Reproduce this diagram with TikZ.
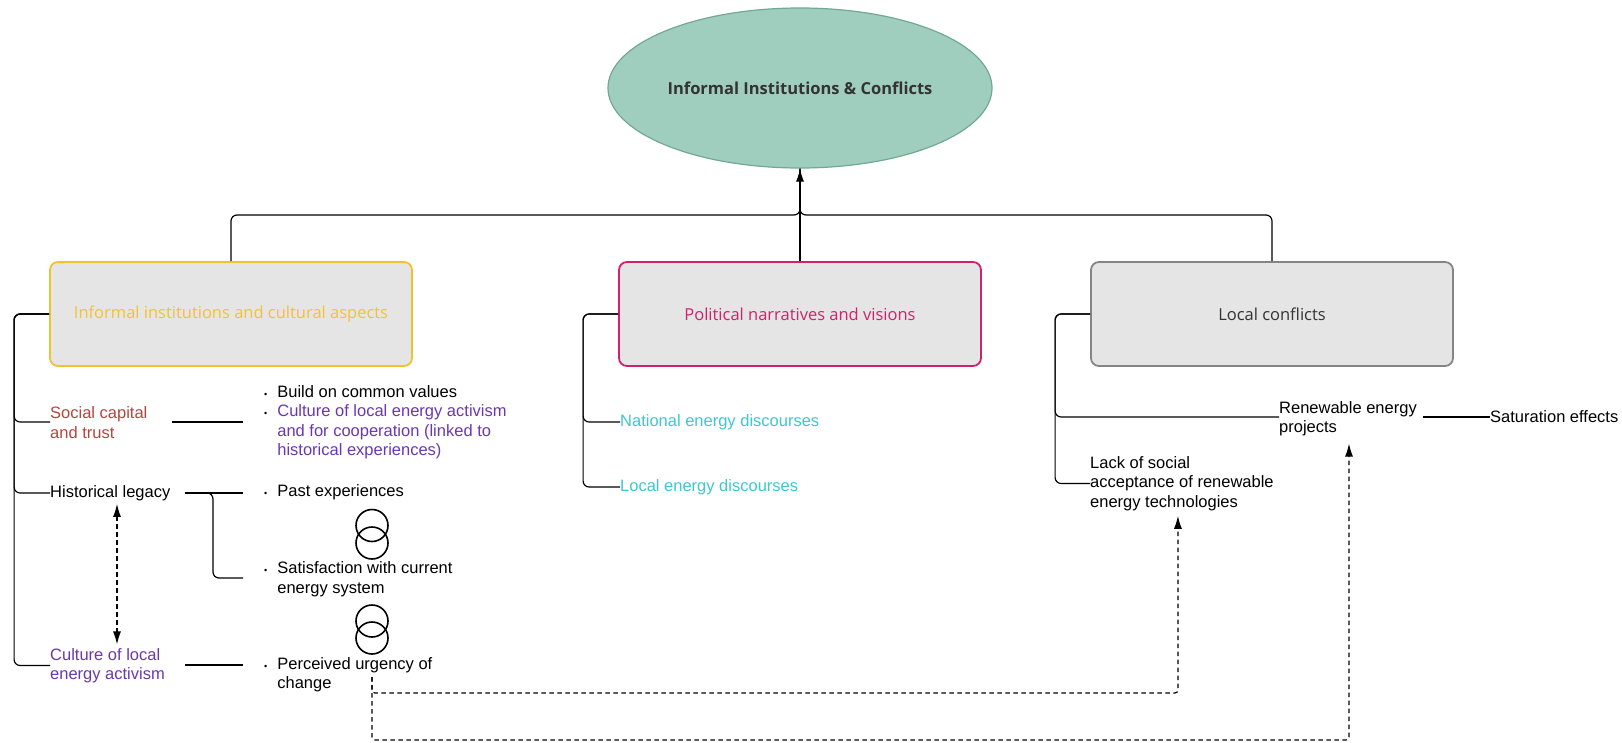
\documentclass[tikz,border=0pt]{standalone}
\usepackage{fontspec}
\setmainfont{Liberation Sans}
\newfontfamily\opensans{Open Sans}
\usetikzlibrary{shapes.geometric,arrows.meta}
\definecolor{ellfill}{HTML}{9FCDBE}
\definecolor{ellborder}{HTML}{72A993}
\definecolor{boxfill}{HTML}{E5E5E5}
\definecolor{yelborder}{HTML}{F2C12E}
\definecolor{yeltext}{HTML}{F3C233}
\definecolor{magborder}{HTML}{D51F6D}
\definecolor{magtext}{HTML}{D0216B}
\definecolor{grayborder}{HTML}{858585}
\definecolor{darktext}{HTML}{333333}
\definecolor{socred}{HTML}{B5443F}
\definecolor{actpurple}{HTML}{6A37B0}
\definecolor{disccyan}{HTML}{3DC7D1}
\begin{document}
\begin{tikzpicture}[x=1pt,y=-1pt,
  catbox/.style={draw, line width=1.8pt, rounded corners=8pt, fill=boxfill,
    minimum width=362pt, minimum height=104pt,
    font=\opensans\fontsize{16.5}{20}\selectfont},
  lbl/.style={anchor=west, inner sep=0pt, align=left,
    font=\fontsize{16.5}{19.4}\selectfont},
  conn/.style={line width=1.2pt, rounded corners=6pt},
  dashconn/.style={line width=1.2pt, dash pattern=on 4.5pt off 3.5pt, rounded corners=3pt},
  tip/.style={-{Latex[length=13pt,width=8pt]}},
  ring/.style={line width=1.6pt}
]
\useasboundingbox (0,0) rectangle (1622,742);

% top concept
\node[ellipse, draw=ellborder, fill=ellfill, line width=1.2pt,
  minimum width=380pt, minimum height=160pt,
  font=\opensans\bfseries\fontsize{16.5}{20}\selectfont, text=darktext]
  (root) at (800,88) {Informal Institutions \& Conflicts};

% three categories
\node[catbox, draw=yelborder, text=yeltext] (inf) at (231,314) {Informal institutions and cultural aspects};
\node[catbox, draw=magborder, text=magtext] (pol) at (800,314) {Political narratives and visions};
\node[catbox, draw=grayborder, text=darktext] (loc) at (1272,314) {Local conflicts};

% links to the top concept
\coordinate (hub) at (800,215);
\draw[conn] (inf.north) |- (hub) -- (root.south);
\draw[conn] (loc.north) |- (hub) -- (root.south);
\draw[conn, tip] (pol.north) -- (root.south);

% left column labels
\node[lbl, text=socred] (soc) at (50,422.5) {Social capital\\and trust};
\node[lbl] (hist) at (50,493) {Historical legacy};
\node[lbl, text=actpurple] (cult) at (50,665.5) {Culture of local\\energy activism};

% bullet items
\newcommand{\bul}{{\fontsize{9}{9}\selectfont\textbullet}}
\node[lbl] (vals) at (264,394) {\begin{tabular}{@{}l@{\hspace{10pt}}l@{}}\bul & Build on common values\end{tabular}};
\node[lbl] (coop) at (264,432.5) {\begin{tabular}{@{}l@{\hspace{10pt}}l@{}}\bul & \textcolor{actpurple}{Culture of local energy activism}\\ & \textcolor{actpurple}{and for cooperation (linked to}\\ & \textcolor{actpurple}{historical experiences)}\end{tabular}};
\node[lbl] (past) at (264,493) {\begin{tabular}{@{}l@{\hspace{10pt}}l@{}}\bul & Past experiences\end{tabular}};
\node[lbl] (satis) at (264,579.5) {\begin{tabular}{@{}l@{\hspace{10pt}}l@{}}\bul & Satisfaction with current\\ & energy system\end{tabular}};
\node[lbl] (urg) at (264,675) {\begin{tabular}{@{}l@{\hspace{10pt}}l@{}}\bul & Perceived urgency of\\ & change\end{tabular}};

% overlapping rings between the items
\draw[ring] (372,525.5) circle[radius=16];
\draw[ring] (372,543) circle[radius=16];
\draw[ring] (372,621) circle[radius=16];
\draw[ring] (372,638) circle[radius=16];

% left bracket
\draw[conn] (inf.west) -- ++(-35,0) |- ([yshift=0.5pt]soc.west);
\draw[conn] (inf.west) -- ++(-35,0) |- (hist.west);
\draw[conn] (inf.west) -- ++(-35,0) |- (cult.west);

% left horizontal links
\coordinate (socL) at (172,422);
\coordinate (socR) at (243,422);
\draw[conn] (socL) -- (socR);
\coordinate (histL) at (185,493);
\coordinate (histR) at (243,493);
\draw[conn] (histL) -- (histR);
\coordinate (brk) at (204,493);
\coordinate (satL) at (243,578);
\draw[conn] (brk) -- ++(9,0) |- (satL);
\coordinate (cultL) at (185,665);
\coordinate (cultR) at (243,665);
\draw[conn] (cultL) -- (cultR);

% two-headed dashed link
\coordinate (ax) at (117,0);
\draw[dashconn, {Latex[length=13pt,width=8pt]}-{Latex[length=13pt,width=8pt]}]
  ([yshift=-3pt]hist.south -| ax) -- ([yshift=3.5pt]cult.north -| ax);

% middle column
\node[lbl, text=disccyan] (nat) at (620,422) {National energy discourses};
\node[lbl, text=disccyan] (locd) at (620,487) {Local energy discourses};
\draw[conn] (pol.west) -- ++(-35,0) |- (nat.west);
\draw[conn] (pol.west) -- ++(-35,0) |- (locd.west);

% right column
\node[lbl] (ren) at (1279,418.5) {Renewable energy\\projects};
\node[lbl] (satur) at (1490,417) {Saturation effects};
\node[lbl] (lack) at (1090,483.5) {Lack of social\\acceptance of renewable\\energy technologies};
\draw[conn] (loc.west) -- ++(-35,0) |- ([yshift=1.5pt]ren.west);
\draw[conn] (loc.west) -- ++(-35,0) |- (lack.west);
\draw[conn] ([xshift=6pt,yshift=1.5pt]ren.east) -- (satur.west);

% dashed influence links
\coordinate (ds) at (372,677);
\draw[dashconn, tip] (ds) -- ++(0,16) -| ([xshift=-4pt,yshift=-5pt]lack.south);
\draw[dashconn, tip] (ds) -- ++(0,63) -| ([xshift=1pt,yshift=-7.5pt]ren.south);
\end{tikzpicture}
\end{document}
